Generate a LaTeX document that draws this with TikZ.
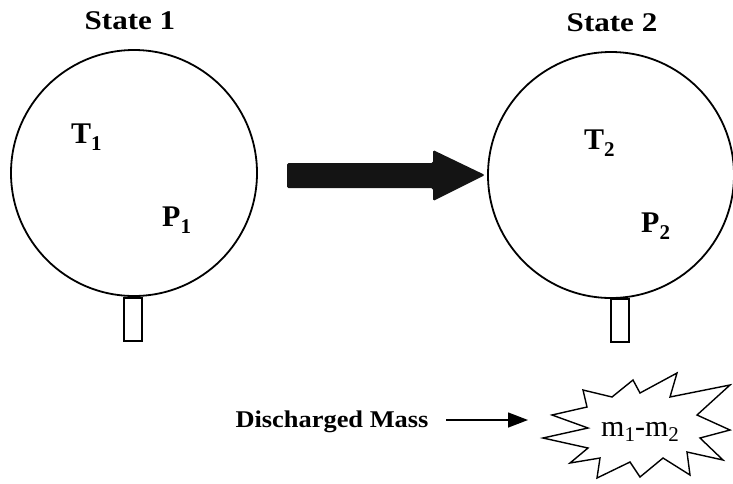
\documentclass[tikz,border=0pt]{standalone}
\usepackage{fontspec}
\setmainfont{Liberation Serif}
\usetikzlibrary{arrows.meta}
\newcommand{\lowsub}[2]{\raisebox{-#2pt}{\fontsize{21}{22}\selectfont #1}}
\tikzset{
  tank/.style={circle, draw, line width=1.8pt, minimum size=246pt, inner sep=0pt},
  stem/.style={draw, line width=1.6pt, minimum width=18pt, minimum height=43pt, inner sep=0pt},
  title/.style={font=\fontsize{27}{30}\selectfont\bfseries, anchor=base, inner sep=0pt},
  var/.style={font=\fontsize{30}{32}\selectfont\bfseries, anchor=base west, inner sep=0pt},
  lbl/.style={font=\fontsize{24}{28}\selectfont\bfseries, anchor=base, inner sep=0pt},
  burstlbl/.style={font=\fontsize{30}{32}\selectfont, anchor=base, inner sep=0pt},
}
\begin{document}
\begin{tikzpicture}[x=1pt,y=-1pt]
\useasboundingbox (0,0) rectangle (733,483);
% tanks
\node[tank] (c1) at (134,173) {};
\node[tank] (c2) at (611,175) {};
\node[stem, anchor=north] (s1) at (133,297) {};
\node[stem, anchor=north] (s2) at (620,298) {};
% titles
\node[title] (st1) at (130,29) {\scalebox{1.15}[1]{State 1}};
\node[title] (st2) at (612,31) {\scalebox{1.15}[1]{State 2}};
% variables
\node[var] (t1) at (71,143) {T\lowsub{1}{7}};
\node[var] (p1) at (162,226) {P\lowsub{1}{7}};
\node[var] (t2) at (584,149) {T\lowsub{2}{7}};
\node[var] (p2) at (641,232) {P\lowsub{2}{7}};
% big arrow
\fill[black!92, rounded corners=1.5pt] (287,163) -- (433,163) -- (433,150) -- (485,175) -- (433,201) -- (433,188) -- (287,188) -- cycle;
% discharged mass
\node[lbl] (dm) at (332,427) {\scalebox{1.1}[1]{Discharged Mass}};
\coordinate (burst) at (640,436);
\draw[line width=1.4pt] (543,438) -- (588,428) -- (552,415) -- (587,407) -- (583,390) -- (612,397) -- (633,380) -- (640,393) -- (677,373) -- (670,397) -- (730,385) -- (697,415) -- (730,430) -- (700,438) -- (723,460) -- (687,452) -- (690,475) -- (663,458) -- (640,477) -- (630,462) -- (597,478) -- (600,458) -- (570,463) -- (588,448) -- cycle;
\node[burstlbl] (m) at (burst) {m\lowsub{1}{5}-m\lowsub{2}{5}};
\coordinate (arrend) at (528,420);
\draw[line width=1.4pt, -{Triangle[length=20pt,width=15pt]}] (446,420) -- (arrend);
\end{tikzpicture}
\end{document}
